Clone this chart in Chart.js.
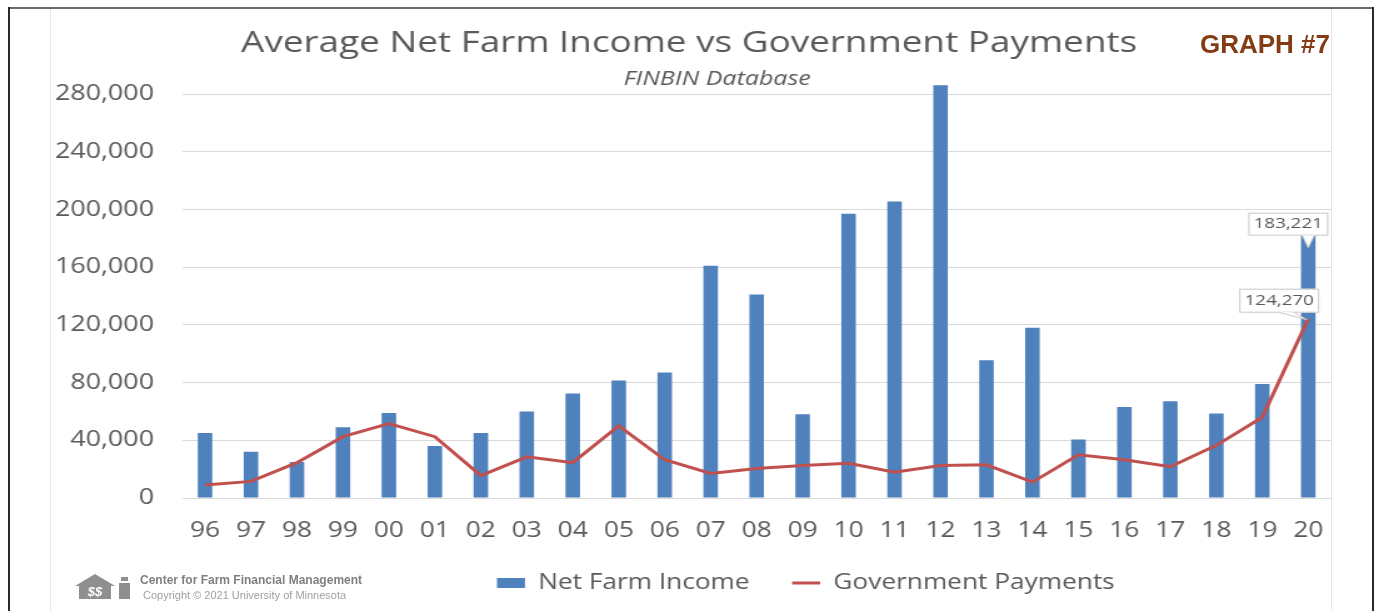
<!DOCTYPE html>
<html><head><meta charset="utf-8">
<script src="https://cdn.jsdelivr.net/npm/chart.js@4.4.1/dist/chart.umd.min.js"></script>
<style>
html,body{margin:0;padding:0;background:#fff;}
body{width:1379px;height:611px;position:relative;overflow:hidden;font-family:'Open Sans',sans-serif;}
#stretch{position:absolute;left:0;top:0;width:1103px;height:611px;transform:scaleX(1.250227);transform-origin:0 0;}
#wrap{position:absolute;left:0;top:0;width:1103px;height:611px;}
.fr{position:absolute;}
</style></head><body>
<div class="fr" style="left:50px;top:9px;width:1px;height:602px;background:#e6e6e6"></div>
<div class="fr" style="left:1331px;top:9px;width:1px;height:602px;background:#e6e6e6"></div>
<div class="fr" style="left:8px;top:7px;width:1366px;height:2px;background:#6b6b6b"></div>
<div class="fr" style="left:8px;top:7px;width:2px;height:604px;background:#2a2a2a"></div>
<div class="fr" style="left:1372px;top:7px;width:2px;height:604px;background:#2a2a2a"></div>
<div id="stretch"><div id="wrap"><canvas id="c"></canvas></div></div>
<div style="position:absolute;left:1200px;top:31px;font:bold 26px 'Liberation Sans',Arial,sans-serif;line-height:26px;color:#843C14;white-space:nowrap">GRAPH #7</div>
<svg style="position:absolute;left:75px;top:571px" width="60" height="30" viewBox="0 0 60 30">
  <polygon points="0,15 20,3 40,15 36,15 36,28 4,28 4,15" fill="#8f8f8f"/>
  <text x="20" y="25" font-family="Liberation Sans,Arial" font-style="italic" font-weight="bold" font-size="13" fill="#fff" text-anchor="middle">$$</text>
  <rect x="44" y="12" width="11" height="16" fill="#8f8f8f"/>
  <rect x="46" y="6" width="7" height="4" fill="#8f8f8f"/>
</svg>
<div style="position:absolute;left:140px;top:573px;font:bold 12px 'Liberation Sans',Arial,sans-serif;color:#808080;white-space:nowrap;line-height:14px">Center for Farm Financial Management</div>
<div style="position:absolute;left:143px;top:589px;font:11px 'Liberation Sans',Arial,sans-serif;color:#a0a0a0;white-space:nowrap;line-height:13px">Copyright © 2021 University of Minnesota</div>
<script>
// ---- data ----
const years = ['96','97','98','99','00','01','02','03','04','05','06','07','08','09','10','11','12','13','14','15','16','17','18','19','20'];
const netFarmIncome = [45000, 32000, 25000, 49000, 59000, 36000, 45000, 60000, 72500, 81500, 87000, 161000, 141000, 58000, 197000, 205500, 286000, 95500, 118000, 40500, 63000, 67000, 58500, 79000, 183221];
const governmentPayments = [9000, 11500, 24500, 42500, 51500, 42500, 15500, 28500, 24500, 50000, 26500, 17000, 20500, 22500, 24000, 17800, 22500, 23000, 11000, 30000, 26500, 21700, 36500, 56000, 124270];
const yTickValues = [0, 40000, 80000, 120000, 160000, 200000, 240000, 280000];
const seriesNames = ['Net Farm Income', 'Government Payments'];
const titleText = 'Average Net Farm Income vs Government Payments';
const subtitleText = 'FINBIN Database';

const GRAY = '#595959';
const fmt = v => Number(v).toLocaleString('en-US');

function centerBox(b, c) {
  const w = b.right - b.left;
  b.left = c - w / 2; b.right = c + w / 2;
}

const placePlugin = {
  id: 'place',
  afterLayout(chart) {
    for (const b of chart.boxes) {
      if (b === chart.titleBlock) centerBox(b, 551.2);
      else if (b.options && b.options.text === subtitleText) centerBox(b, 573.6);
    }
    const lg = chart.legend;
    if (lg) { const w = lg.right - lg.left; lg.left = 363.5; lg.right = 363.5 + w; }
  }
};

function callout(ctx, text, left, right, bottom, h, tail) {
  const top = bottom - h;
  ctx.fillStyle = '#ffffff';
  ctx.strokeStyle = '#c8c8c8';
  ctx.lineWidth = 1;
  ctx.fillRect(left, top, right - left, h);
  ctx.strokeRect(left + 0.5, top + 0.5, right - left - 1, h - 1);
  ctx.beginPath();
  ctx.moveTo(tail[0][0], tail[0][1]);
  ctx.lineTo(tail[2][0], tail[2][1]);
  ctx.lineTo(tail[1][0], tail[1][1]);
  ctx.closePath();
  ctx.fill();
  ctx.beginPath();
  ctx.moveTo(tail[0][0], tail[0][1]);
  ctx.lineTo(tail[2][0], tail[2][1]);
  ctx.lineTo(tail[1][0], tail[1][1]);
  ctx.stroke();
  ctx.fillStyle = GRAY;
  ctx.font = "15px 'Open Sans'";
  ctx.textAlign = 'center';
  ctx.textBaseline = 'middle';
  ctx.fillText(text, (left + right) / 2, top + h / 2);
}

const calloutPlugin = {
  id: 'callouts',
  afterDatasetsDraw(chart) {
    const ctx = chart.ctx;
    const last = years.length - 1;
    const bar = chart.getDatasetMeta(0).data[last];
    const pt = chart.getDatasetMeta(1).data[last];
    ctx.save();
    const bx = bar.x, bb = bar.y + 2;
    callout(ctx, fmt(netFarmIncome[last]), bx - 48, bx + 16, bb, 23,
      [[bx - 5, bb - 0.5], [bx + 5, bb - 0.5], [bx, bb + 12]]);
    const px = pt.x, pb = pt.y - 6;
    callout(ctx, fmt(governmentPayments[last]), px - 55.2, px + 8.8, pb, 24,
      [[px - 24, pb - 0.5], [px - 12, pb - 0.5], [px - 1, pt.y + 1]]);
    ctx.restore();
  }
};

Chart.defaults.font.family = "'Open Sans', sans-serif";
Chart.defaults.color = GRAY;

new Chart(document.getElementById('c'), {
  type: 'bar',
  data: {
    labels: years,
    datasets: [
      {
        type: 'bar',
        label: seriesNames[0],
        data: netFarmIncome,
        backgroundColor: '#4F81BD',
        borderWidth: 0,
        categoryPercentage: 1.0,
        barPercentage: 0.316,
        pointStyle: 'rect',
        order: 1
      },
      {
        type: 'line',
        label: seriesNames[1],
        data: governmentPayments,
        borderColor: '#C0504D',
        backgroundColor: '#C0504D',
        borderWidth: 3,
        pointRadius: 0,
        pointHoverRadius: 0,
        tension: 0,
        pointStyle: 'line',
        order: 0
      }
    ]
  },
  options: {
    responsive: true,
    maintainAspectRatio: false,
    animation: false,
    layout: { padding: { left: 43.2, right: 38.2, top: 0, bottom: 8.5 } },
    scales: {
      x: {
        type: 'category',
        grid: { display: false, drawTicks: false },
        border: { display: false },
        ticks: { font: { size: 21, lineHeight: 1.2 }, color: GRAY, padding: 20, maxRotation: 0, autoSkip: false },
        afterFit(s) { s.height = 40.5; }
      },
      y: {
        min: 0,
        max: 290000,
        grid: { color: '#d9d9d9', lineWidth: 1, drawTicks: false },
        border: { display: false },
        ticks: {
          font: { size: 21.5 }, color: GRAY, padding: 22.4,
          includeBounds: false,
          callback: v => fmt(v)
        },
        afterBuildTicks(axis) { axis.ticks = yTickValues.map(v => ({ value: v })); },
        afterFit(s) { s.width = 102.4; }
      }
    },
    plugins: {
      title: {
        display: true,
        text: titleText,
        color: GRAY,
        font: { size: 29.5, weight: 'normal', lineHeight: 1.2 },
        padding: { top: 26.3, bottom: 0 }
      },
      subtitle: {
        display: true,
        text: subtitleText,
        color: GRAY,
        font: { size: 20, style: 'italic', weight: 'normal', lineHeight: 1.2 },
        padding: { top: 5.9, bottom: -12.0 }
      },
      legend: {
        display: true,
        position: 'bottom',
        align: 'start',
        maxHeight: 64,
        labels: {
          usePointStyle: true,
          pointStyleWidth: 22.4,
          boxHeight: 10,
          padding: 34,
          color: GRAY,
          font: { size: 21 },
          sort: (a, b) => a.datasetIndex - b.datasetIndex
        }
      },
      tooltip: { enabled: false }
    }
  },
  plugins: [placePlugin, calloutPlugin]
});
</script>
</body></html>
